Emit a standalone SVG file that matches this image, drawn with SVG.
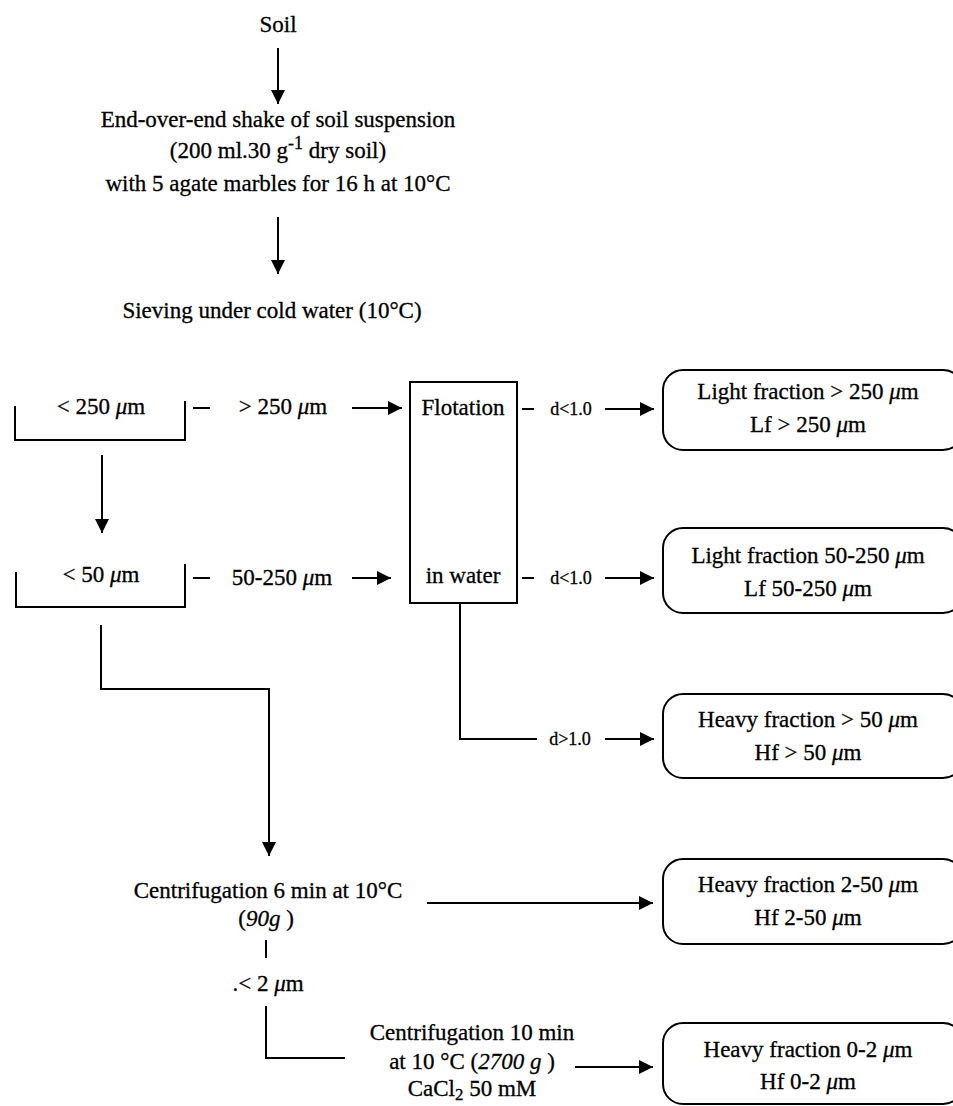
<svg xmlns="http://www.w3.org/2000/svg" width="953" height="1106" viewBox="0 0 953 1106">
<defs>
<marker id="ah" viewBox="0 0 14 14" refX="14" refY="7" markerWidth="14" markerHeight="14" markerUnits="userSpaceOnUse" orient="auto">
<path d="M0,0 L14,7 L0,14 Z" fill="#000"/>
</marker>
</defs>
<style>
text{font-family:"Liberation Serif","Times New Roman",serif;font-size:23px;fill:#000;stroke:#000;stroke-width:0.3;text-anchor:middle}
.s{font-size:18px}
.i{font-style:italic}
.ln{fill:none;stroke:#000;stroke-width:2}
.ar{fill:none;stroke:#000;stroke-width:2;marker-end:url(#ah)}
.box{fill:#fff;stroke:#000;stroke-width:2}
</style>
<rect width="953" height="1106" fill="#fff"/>
<g id="connectors">
<line class="ar" x1="278" y1="48" x2="278" y2="104"/>
<line class="ar" x1="278" y1="217" x2="278" y2="274"/>
<line class="ln" x1="193" y1="408" x2="210" y2="408"/>
<line class="ar" x1="352" y1="408" x2="402" y2="408"/>
<line class="ln" x1="522" y1="409" x2="534" y2="409"/>
<line class="ar" x1="605" y1="409" x2="654" y2="409"/>
<line class="ar" x1="102" y1="455" x2="102" y2="533"/>
<line class="ln" x1="193" y1="578" x2="210" y2="578"/>
<line class="ar" x1="352" y1="578" x2="391" y2="578"/>
<line class="ln" x1="522" y1="578" x2="534" y2="578"/>
<line class="ar" x1="605" y1="578" x2="654" y2="578"/>
<polyline class="ln" points="460,603 460,739 537,739"/>
<line class="ar" x1="605" y1="739" x2="654" y2="739"/>
<polyline class="ar" points="101,625 101,689 269,689 269,856"/>
<line class="ar" x1="427" y1="903" x2="653" y2="903"/>
<line class="ln" x1="266" y1="940" x2="266" y2="958"/>
<polyline class="ln" points="266,1006 266,1058 345,1058"/>
<line class="ar" x1="575" y1="1067" x2="653" y2="1067"/>
</g>
<g id="soil"><text x="278" y="32">Soil</text></g>
<g id="shake">
<text x="278" y="127">End-over-end shake of soil suspension</text>
<text x="278" y="158">(200 ml.30 g<tspan dy="-9" font-size="18">-1</tspan><tspan dy="9"> dry soil)</tspan></text>
<text x="278" y="191">with 5 agate marbles for 16 h at 10°C</text>
</g>
<g id="sieving"><text x="272" y="318">Sieving under cold water (10°C)</text></g>
<g id="bracket250">
<polyline class="ln" points="15,406 15,440 185,440 185,401"/>
<text x="101" y="414">&lt; 250 <tspan class="i">μ</tspan>m</text>
</g>
<g id="lbl250"><text x="283" y="414">&gt; 250 <tspan class="i">μ</tspan>m</text></g>
<g id="bracket50">
<polyline class="ln" points="16,572 16,607 185,607 185,564"/>
<text x="101" y="582">&lt; 50 <tspan class="i">μ</tspan>m</text>
</g>
<g id="lbl50250"><text x="282" y="585">50-250 <tspan class="i">μ</tspan>m</text></g>
<g id="flotation">
<rect class="box" x="410" y="382" width="107" height="221"/>
<text x="463" y="415">Flotation</text>
<text x="463" y="583">in water</text>
</g>
<g id="d1"><text class="s" x="571" y="415">d&lt;1.0</text></g>
<g id="d2"><text class="s" x="571" y="584">d&lt;1.0</text></g>
<g id="d3"><text class="s" x="570" y="745">d&gt;1.0</text></g>
<g id="lf250">
<rect class="box" x="663" y="370" width="300" height="80" rx="20"/>
<text x="808" y="399">Light fraction &gt; 250 <tspan class="i">μ</tspan>m</text>
<text x="808" y="432">Lf &gt; 250 <tspan class="i">μ</tspan>m</text>
</g>
<g id="lf50250">
<rect class="box" x="663" y="528" width="300" height="85" rx="20"/>
<text x="808" y="563">Light fraction 50-250 <tspan class="i">μ</tspan>m</text>
<text x="808" y="596">Lf 50-250 <tspan class="i">μ</tspan>m</text>
</g>
<g id="hf50">
<rect class="box" x="663" y="694" width="300" height="84" rx="20"/>
<text x="808" y="727">Heavy fraction &gt; 50 <tspan class="i">μ</tspan>m</text>
<text x="808" y="760">Hf &gt; 50 <tspan class="i">μ</tspan>m</text>
</g>
<g id="centrif6">
<text x="268" y="898">Centrifugation 6 min at 10°C</text>
<text x="266" y="926">(<tspan class="i">90g</tspan> )</text>
</g>
<g id="lt2"><text x="268" y="991">.&lt; 2 <tspan class="i">μ</tspan>m</text></g>
<g id="hf250">
<rect class="box" x="663" y="859" width="300" height="85" rx="20"/>
<text x="808" y="892">Heavy fraction 2-50 <tspan class="i">μ</tspan>m</text>
<text x="808" y="925">Hf  2-50 <tspan class="i">μ</tspan>m</text>
</g>
<g id="centrif10">
<text x="472" y="1040">Centrifugation 10 min</text>
<text x="472" y="1069">at 10 °C (<tspan class="i">2700 g</tspan> )</text>
<text x="472" y="1096">CaCl<tspan dy="4" font-size="17">2</tspan><tspan dy="-4"> 50 mM</tspan></text>
</g>
<g id="hf02">
<rect class="box" x="663" y="1023" width="300" height="81" rx="20"/>
<text x="808" y="1057">Heavy fraction 0-2 <tspan class="i">μ</tspan>m</text>
<text x="808" y="1089">Hf  0-2 <tspan class="i">μ</tspan>m</text>
</g>
</svg>
